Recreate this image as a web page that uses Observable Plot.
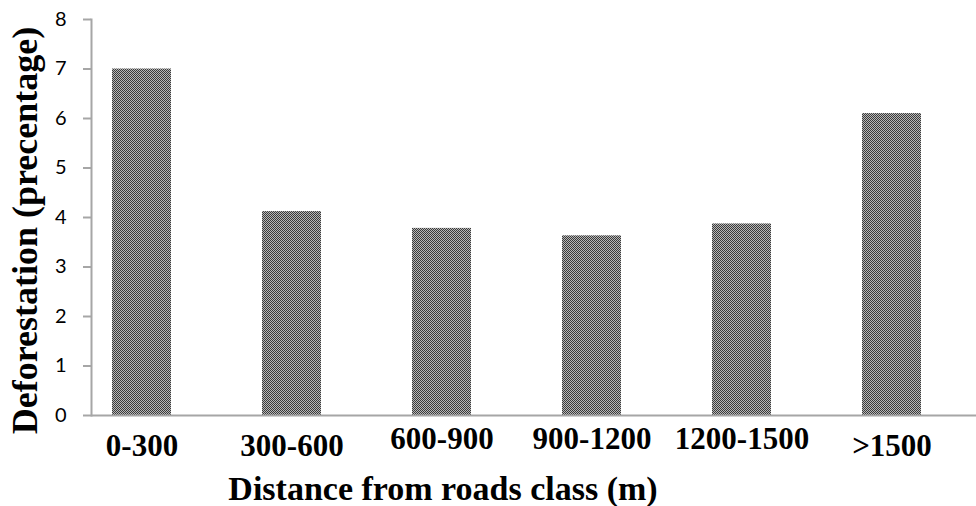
<!DOCTYPE html>
<html>
<head>
<meta charset="utf-8">
<script src="https://cdn.jsdelivr.net/npm/d3@7"></script>
<script src="https://cdn.jsdelivr.net/npm/@observablehq/plot@0.6"></script>
<style>
  html, body { margin: 0; padding: 0; background: #fff; }
  #chart { width: 976px; height: 506px; }
</style>
</head>
<body>
<div id="chart"></div>
<script>
// ---- data ----
const categories = ["0-300", "300-600", "600-900", "900-1200", "1200-1500", ">1500"];
const deforestation = [7.0, 4.12, 3.78, 3.63, 3.87, 6.1];
const yTicks = [0, 1, 2, 3, 4, 5, 6, 7, 8];
const xTitle = "Distance from roads class (m)";
const yTitle = "Deforestation (precentage)";

const data = categories.map((c, i) => ({category: c, value: deforestation[i]}));
const raised = new Set(["600-900", "900-1200", "1200-1500"]);

const serif = "'Liberation Serif', 'Times New Roman', serif";
const axisGray = "#a6a6a6";

const chart = Plot.plot({
  width: 976,
  height: 506,
  marginLeft: 91,
  marginRight: 0,
  marginTop: 19,
  marginBottom: 91,
  style: {background: "#fff", overflow: "visible"},
  x: {domain: categories, range: [64, 969], paddingInner: 0.609, paddingOuter: 0.3045, axis: null},
  y: {domain: [0, 8], axis: null},
  marks: [
    Plot.barY(data, {x: "category", y: "value", fill: "url(#checker)"}),
    Plot.frame({anchor: "left", stroke: axisGray, strokeWidth: 2}),
    Plot.ruleY([0], {stroke: axisGray, strokeWidth: 2}),
    Plot.axisY({
      ticks: yTicks, tickSize: 8, tickPadding: 17, stroke: axisGray, strokeWidth: 2,
      fontSize: 20, fontFamily: "Lato, 'Liberation Sans', sans-serif", fill: "#000", label: null
    }),
    Plot.text(categories.filter(c => !raised.has(c)), {
      x: d => d, frameAnchor: "bottom", lineAnchor: "middle", dy: 31,
      fontSize: 31, fontWeight: "bold", fontFamily: serif, fill: "#000"
    }),
    Plot.text(categories.filter(c => raised.has(c)), {
      x: d => d, frameAnchor: "bottom", lineAnchor: "middle", dy: 24,
      fontSize: 31, fontWeight: "bold", fontFamily: serif, fill: "#000"
    }),
    Plot.text([xTitle], {
      frameAnchor: "bottom", lineAnchor: "middle", textAnchor: "middle", dx: -91, dy: 74,
      fontSize: 34, fontWeight: "bold", fontFamily: serif, fill: "#000"
    }),
    Plot.text([yTitle], {
      frameAnchor: "left", textAnchor: "middle", lineAnchor: "middle", rotate: -90, dx: -66, dy: 13,
      fontSize: 36, fontWeight: "bold", fontFamily: serif, fill: "#000"
    })
  ]
});

// checkerboard fill pattern used by the bars
const ns = "http://www.w3.org/2000/svg";
const defs = document.createElementNS(ns, "defs");
const pat = document.createElementNS(ns, "pattern");
pat.setAttribute("id", "checker");
pat.setAttribute("width", "2");
pat.setAttribute("height", "2");
pat.setAttribute("patternUnits", "userSpaceOnUse");
[[0, 0, 2, 2, "#b8b8b8"], [0, 0, 1, 1, "#3a3a3a"], [1, 1, 1, 1, "#3a3a3a"]].forEach(([x, y, w, h, f]) => {
  const r = document.createElementNS(ns, "rect");
  r.setAttribute("x", x); r.setAttribute("y", y);
  r.setAttribute("width", w); r.setAttribute("height", h);
  r.setAttribute("fill", f);
  pat.appendChild(r);
});
defs.appendChild(pat);
chart.insertBefore(defs, chart.firstChild);

document.getElementById("chart").appendChild(chart);
</script>
</body>
</html>
